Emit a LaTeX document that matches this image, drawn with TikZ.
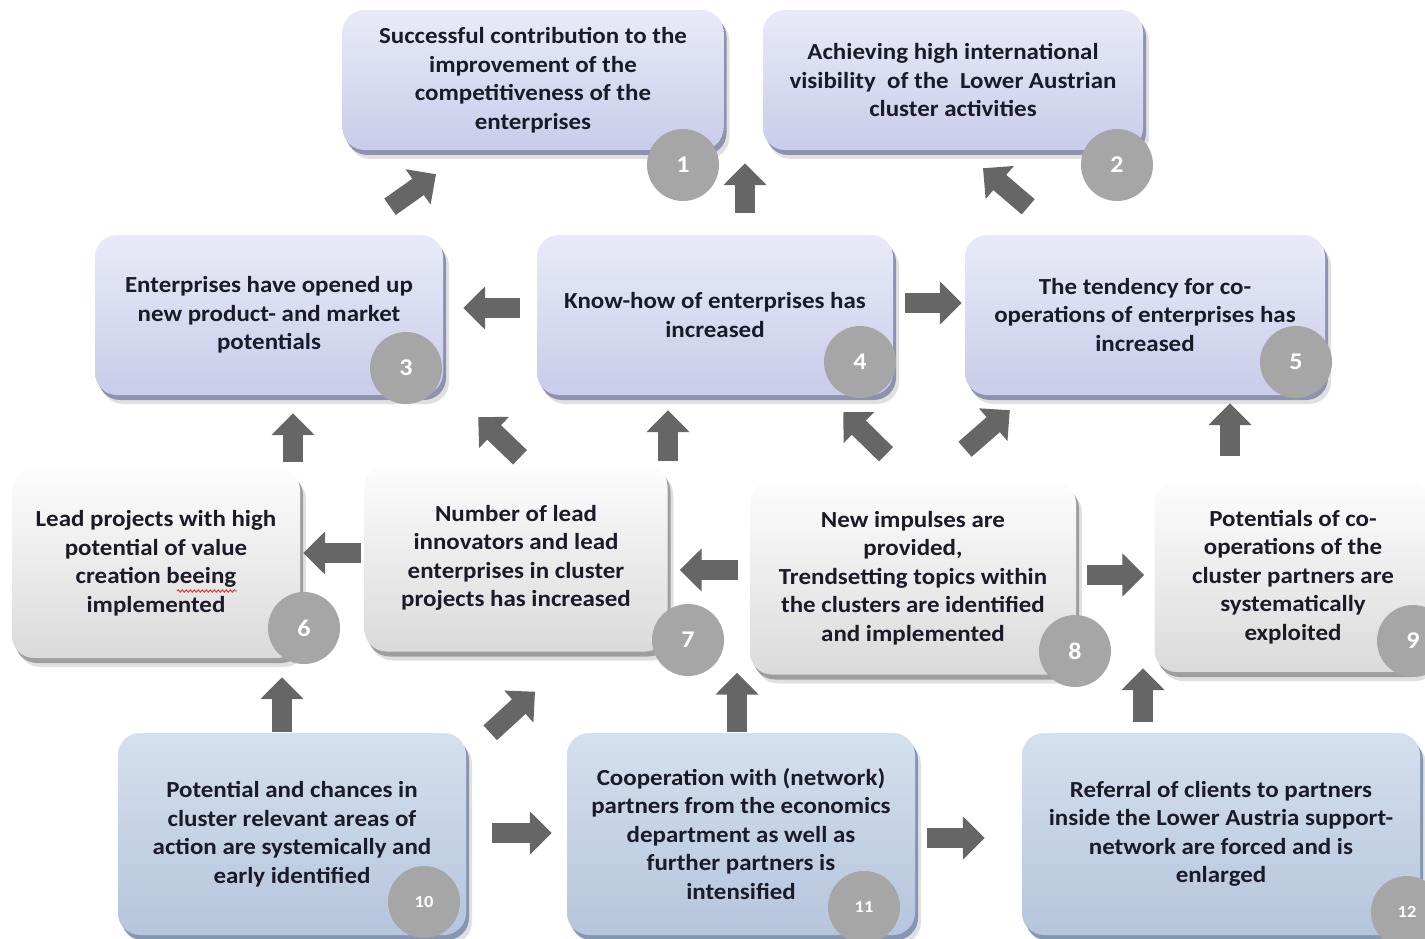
\documentclass[tikz,border=0pt]{standalone}
\usepackage{fontspec}
\setmainfont{Carlito}[FakeStretch=1.085]
\usetikzlibrary{arrows.meta,shadows,decorations.pathmorphing}

\definecolor{txt}{HTML}{1A1A28}
\definecolor{lavtop}{HTML}{E9EAF8}
\definecolor{lavbot}{HTML}{C9CCEA}
\definecolor{lavrim}{HTML}{8F92AE}
\definecolor{grytop}{HTML}{FDFDFD}
\definecolor{grybot}{HTML}{DADADA}
\definecolor{gryrim}{HTML}{9E9E9E}
\definecolor{blutop}{HTML}{D5E0EE}
\definecolor{blubot}{HTML}{B5C5DC}
\definecolor{blurim}{HTML}{8497B2}
\definecolor{numgrey}{HTML}{A6A6A6}
\definecolor{arrgrey}{HTML}{666666}
\definecolor{squig}{HTML}{E03030}

\begin{document}
\begin{tikzpicture}[x=1pt,y=-1pt,
  box/.style={rounded corners=22pt, inner sep=0pt, align=center,
    font=\fontsize{23}{28.5}\selectfont\bfseries, text=txt},
  lav/.style={box, top color=lavtop, bottom color=lavbot,
    drop shadow={shadow xshift=6pt, shadow yshift=-9pt, fill=black, opacity=0.12},
    drop shadow={shadow xshift=3pt, shadow yshift=-5pt, fill=lavrim, opacity=1}},
  gry/.style={box, top color=grytop, bottom color=grybot,
    drop shadow={shadow xshift=6pt, shadow yshift=-9pt, fill=black, opacity=0.12},
    drop shadow={shadow xshift=3pt, shadow yshift=-5pt, fill=gryrim, opacity=1}},
  blu/.style={box, top color=blutop, bottom color=blubot,
    drop shadow={shadow xshift=6pt, shadow yshift=-9pt, fill=black, opacity=0.12},
    drop shadow={shadow xshift=3pt, shadow yshift=-5pt, fill=blurim, opacity=1}},
  num/.style={circle, fill=numgrey, minimum size=72pt, inner sep=0pt, text=white,
    font=\fontsize{24}{24}\selectfont\bfseries},
  numsm/.style={num, font=\fontsize{17}{17}\selectfont\bfseries},
  blk/.style={line width=20pt, draw=arrgrey, -{Triangle[length=22pt,width=42pt]}},
  spell/.style={draw=squig, line width=0.9pt,
    decorate, decoration={snake, amplitude=1.2pt, segment length=4pt}}
]
\useasboundingbox (0,0) rectangle (1425,939);

% top row
\node[lav, minimum width=381pt, minimum height=140pt] (n1) at (533,80)
  {Successful contribution to the\\improvement of the\\competitiveness of the\\enterprises};
\node[lav, minimum width=380pt, minimum height=140pt] (n2) at (953,80)
  {Achieving high international\\visibility\ \ of the\ \ Lower Austrian\\cluster activities};

% second row
\node[lav, minimum width=348pt, minimum height=160pt] (n3) at (269,315)
  {Enterprises have opened up\\new product- and market\\potentials};
\node[lav, minimum width=356pt, minimum height=160pt] (n4) at (715,315)
  {Know-how of enterprises has\\increased};
\node[lav, minimum width=360pt, minimum height=160pt] (n5) at (1145,315)
  {The tendency for co-\\operations of enterprises has\\increased};

% third row
\node[gry, minimum width=288pt, minimum height=190pt] (n6) at (156,563)
  {Lead projects with high\\potential of value\\creation beeing\\implemented};
\node[gry, minimum width=303pt, minimum height=187pt] (n7) at (516,558)
  {Number of lead\\innovators and lead\\enterprises in cluster\\projects has increased};
\node[gry, minimum width=326pt, minimum height=193pt] (n8) at (913,578)
  {New impulses are\\provided,\\Trendsetting topics within\\the clusters are identified\\and implemented};
\node[gry, minimum width=277pt, minimum height=190pt] (n9) at (1293,577)
  {Potentials of co-\\operations of the\\cluster partners are\\systematically\\exploited};

% bottom row
\node[blu, minimum width=348pt, minimum height=202pt] (n10) at (292,834)
  {Potential and chances in\\cluster relevant areas of\\action are systemically and\\early identified};
\node[blu, minimum width=348pt, minimum height=202pt] (n11) at (741,834)
  {Cooperation with (network)\\partners from the economics\\department as well as\\further partners is\\intensified};
\node[blu, minimum width=398pt, minimum height=202pt] (n12) at (1221,834)
  {Referral of clients to partners\\inside the Lower Austria support-\\network are forced and is\\enlarged};

% wavy spell-check mark under "beeing"
\draw[spell] ([shift={(21,28)}]n6.center) -- ([shift={(81,28)}]n6.center);

% number badges
\node[num] (c1) at (683,165) {1};
\node[num] (c2) at (1117,165) {2};
\node[num] (c3) at (406,368) {3};
\node[num] (c4) at (860,362) {4};
\node[num] (c5) at (1296,362) {5};
\node[num] (c6) at (304,628) {6};
\node[num] (c7) at (688,640) {7};
\node[num] (c8) at (1075,651) {8};
\node[num] (c9) at (1413,641) {9};
\node[numsm] (c10) at (424,902) {10};
\node[numsm] (c11) at (864,907) {11};
\node[numsm] (c12) at (1407,912) {12};

% block arrows between the boxes
\draw[blk] ([shift={(121,-28)}]n3.north) -- ([shift={(-97,24)}]n1.south);
\draw[blk] ([shift={(30,-22)}]n4.north) -- ([shift={(212,13)}]n1.south);
\draw[blk] ([shift={(135,-28)}]n4.north east) -- ([shift={(30,18)}]n2.south);
\draw[blk] ([shift={(-17,-7)}]n4.west) -- ([shift={(20,-7)}]n3.east);
\draw[blk] ([shift={(12,-12)}]n4.east) -- ([shift={(-3,-12)}]n5.west);
\draw[blk] ([shift={(137,-6)}]n6.north) -- ([shift={(24,18)}]n3.south);
\draw[blk] ([shift={(4,-7)}]n7.north) -- ([shift={(35,22)}]n3.south east);
\draw[blk] ([shift={(152,-3)}]n7.north) -- ([shift={(-47,15)}]n4.south);
\draw[blk] ([shift={(-27,-27)}]n8.north) -- ([shift={(-50,17)}]n4.south east);
\draw[blk] ([shift={(52,-32)}]n8.north) -- ([shift={(45,15)}]n5.south west);
\draw[blk] ([shift={(-63,-26)}]n9.north) -- ([shift={(85,8)}]n5.south);
\draw[blk] ([shift={(-3,-5)}]n7.west) -- ([shift={(3,-10)}]n6.east);
\draw[blk] ([shift={(-12,-8)}]n8.west) -- ([shift={(12,12)}]n7.east);
\draw[blk] ([shift={(11,-3)}]n8.east) -- ([shift={(-10,-2)}]n9.west);
\draw[blk] ([shift={(-10,-1)}]n10.north) -- ([shift={(126,19)}]n6.south);
\draw[blk] ([shift={(24,0)}]n10.north east) -- ([shift={(19,40)}]n7.south);
\draw[blk] ([shift={(-4,-1)}]n11.north) -- ([shift={(-176,-2)}]n8.south);
\draw[blk] ([shift={(-78,-11)}]n12.north) -- ([shift={(-150,-4)}]n9.south);
\draw[blk] ([shift={(26,-1)}]n10.east) -- ([shift={(-15,-1)}]n11.west);
\draw[blk] ([shift={(12,4)}]n11.east) -- ([shift={(-37,4)}]n12.west);
\end{tikzpicture}
\end{document}
